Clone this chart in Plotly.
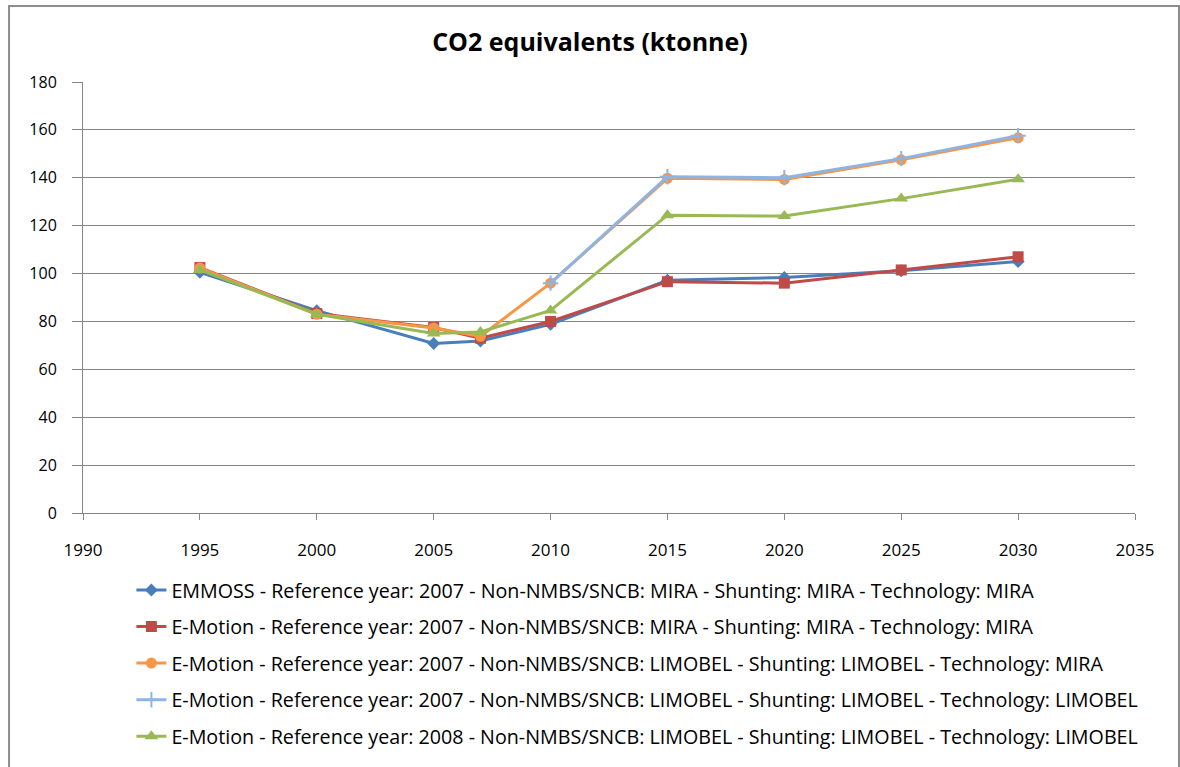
import plotly.graph_objects as go

years = [1995, 2000, 2005, 2007, 2010, 2015, 2020, 2025, 2030]
years_late = [2010, 2015, 2020, 2025, 2030]

emmoss_mira = [100.5, 84.5, 70.8, 71.8, 78.8, 97.2, 98.4, 101.2, 105.0]
emotion_mira = [102.5, 83.3, 77.5, 73.0, 80.0, 96.6, 96.0, 101.5, 107.0]
emotion_limobel_mira = [102.3, 83.0, 77.3, 73.8, 96.0, 139.8, 139.3, 147.5, 156.7]
emotion_limobel_limobel = [96.0, 140.4, 140.0, 148.0, 157.6]
emotion_2008_limobel = [101.5, 83.0, 75.0, 75.6, 84.6, 124.4, 124.0, 131.3, 139.4]

names = [
    "EMMOSS - Reference year: 2007 - Non-NMBS/SNCB: MIRA - Shunting: MIRA - Technology: MIRA",
    "E-Motion - Reference year: 2007 - Non-NMBS/SNCB: MIRA - Shunting: MIRA - Technology: MIRA",
    "E-Motion - Reference year: 2007 - Non-NMBS/SNCB: LIMOBEL - Shunting: LIMOBEL - Technology: MIRA",
    "E-Motion - Reference year: 2007 - Non-NMBS/SNCB: LIMOBEL - Shunting: LIMOBEL - Technology: LIMOBEL",
    "E-Motion - Reference year: 2008 - Non-NMBS/SNCB: LIMOBEL - Shunting: LIMOBEL - Technology: LIMOBEL",
]

x_ticks = [1990, 1995, 2000, 2005, 2010, 2015, 2020, 2025, 2030, 2035]
y_ticks = [0, 20, 40, 60, 80, 100, 120, 140, 160, 180]

series = [
    (years, emmoss_mira, "#4A7EBB", "diamond", 10),
    (years, emotion_mira, "#BE4B48", "square", 11),
    (years, emotion_limobel_mira, "#F79646", "circle", 11),
    (years_late, emotion_limobel_limobel, "#8EB4E3", "cross-thin", 11),
    (years, emotion_2008_limobel, "#98B954", "triangle-up", 12),
]

fig = go.Figure()
for i, (xs, ys, color, sym, size) in enumerate(series):
    fig.add_trace(go.Scatter(
        x=xs, y=ys, mode="lines+markers", name=names[i],
        legendgroup=f"g{i}",
        line=dict(color=color, width=3),
        marker=dict(symbol=sym, size=size, color=color,
                    line=dict(color=color, width=2 if sym == "cross-thin" else 0)),
    ))

font_family = "'Open Sans', 'Liberation Sans', sans-serif"

fig.update_layout(
    width=1180, height=767,
    paper_bgcolor="white", plot_bgcolor="white",
    margin=dict(l=83, r=45, t=82, b=254, autoexpand=False),
    title=dict(text="<b>CO2 equivalents (ktonne)</b>", x=0.5, xanchor="center",
               y=0.945, yanchor="middle",
               font=dict(family=font_family, size=25, color="#000000")),
    font=dict(family=font_family, size=16, color="#000000"),
    showlegend=True,
    legend=dict(
        orientation="v", x=0.046, xanchor="left", y=-0.1336, yanchor="top",
        font=dict(family=font_family, size=19.7, color="#000000"),
        traceorder="grouped", tracegroupgap=8,
        bgcolor="rgba(0,0,0,0)",
    ),
    xaxis=dict(
        range=[1990, 2035], tickvals=x_ticks, ticktext=[str(t) for t in x_ticks],
        showgrid=False, zeroline=False,
        showline=True, linecolor="#868686", linewidth=1,
        ticks="outside", ticklen=6, tickcolor="#868686",
        ticklabelstandoff=16,
        tickfont=dict(size=17, color="#000000"),
    ),
    yaxis=dict(
        range=[0, 180], tickvals=y_ticks, ticktext=[str(t) for t in y_ticks],
        showgrid=True, gridcolor="#868686", gridwidth=1,
        zeroline=False,
        showline=True, linecolor="#868686", linewidth=1,
        ticks="outside", ticklen=10, tickcolor="#868686",
        ticklabelstandoff=12,
        tickfont=dict(size=16, color="#000000"),
    ),
)

fig.add_shape(type="rect", xref="paper", yref="paper",
              x0=-0.0703, x1=1.0418, y0=-0.62, y1=1.1763,
              line=dict(color="#8C8C8C", width=2), fillcolor="rgba(0,0,0,0)",
              layer="below")

fig.write_html("out.html", config={"displayModeBar": False})

# remove the browser's default body margin so the figure sits at the page origin
with open("out.html", "r", encoding="utf-8") as f:
    html = f.read()
html = html.replace("<body>", '<body style="margin:0">', 1)
with open("out.html", "w", encoding="utf-8") as f:
    f.write(html)
